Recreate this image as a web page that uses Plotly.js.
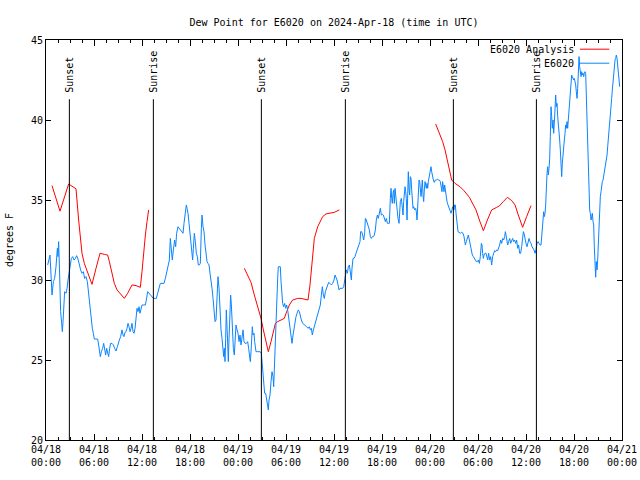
<!DOCTYPE html>
<html><head><meta charset="utf-8">
<script src="https://cdn.plot.ly/plotly-3.0.1.min.js"></script>
<style>html,body{margin:0;padding:0;background:#fff}#chart{width:640px;height:480px}</style>
</head><body><div id="chart"></div>
<script>
// Hours since 2024-04-18 00:00 UTC
const obsHours = [0.21,0.33,0.5,0.63,0.75,0.92,1.08,1.25,1.42,1.5,1.58,1.67,1.75,1.83,1.96,2.04,2.13,2.21,2.33,2.5,2.63,2.75,2.88,3.0,3.17,3.33,3.5,3.67,3.83,4.0,4.17,4.33,4.5,4.67,4.83,5.0,5.17,5.29,5.42,5.54,5.67,5.79,5.92,6.04,6.25,6.46,6.58,6.67,6.79,6.92,7.08,7.21,7.33,7.46,7.58,7.71,7.83,7.96,8.08,8.25,8.42,8.58,8.75,8.92,9.04,9.17,9.33,9.5,9.63,9.75,9.88,10.0,10.13,10.25,10.38,10.5,10.63,10.75,10.88,11.0,11.13,11.25,11.38,11.5,11.63,11.75,11.88,12.0,12.21,12.42,12.54,12.71,12.88,13.04,13.25,13.42,13.63,13.79,13.96,14.13,14.29,14.5,14.75,14.92,15.08,15.25,15.42,15.54,15.67,15.79,15.92,16.08,16.21,16.33,16.5,16.67,16.83,17.0,17.13,17.25,17.42,17.54,
17.63,17.75,17.88,18.0,18.13,18.25,18.33,18.42,18.54,18.67,18.79,18.92,19.04,19.17,19.29,19.42,19.5,19.63,19.75,19.88,20.0,20.13,20.25,20.38,20.5,20.63,20.75,20.88,21.0,21.13,21.25,21.38,21.5,21.63,21.75,21.88,22.0,22.13,22.21,22.29,22.38,22.46,22.54,22.67,22.79,22.88,22.96,23.08,23.17,23.29,23.42,23.54,23.63,23.75,23.88,24.0,24.13,24.25,24.38,24.5,24.63,24.75,24.88,25.04,25.21,25.33,25.46,25.54,25.63,25.71,25.79,25.88,26.0,26.08,26.17,26.25,26.42,26.58,26.75,26.92,27.0,27.08,27.21,27.33,27.46,27.58,27.71,27.79,27.88,28.0,28.13,28.25,28.38,28.46,28.54,28.63,28.71,28.79,28.88,28.96,29.04,29.17,29.29,29.38,29.46,29.58,29.71,29.83,29.96,30.08,30.21,30.33,30.46,30.58,30.75,30.88,31.0,31.13,31.25,31.38,31.54,31.67,31.79,31.92,32.08,32.25,32.42,32.58,32.75,32.92,33.04,33.17,33.29,33.42,33.54,33.67,33.83,34.0,34.17,34.29,34.42,34.54,34.67,34.79,34.92,35.04,35.17,35.33,35.5,35.67,35.83,36.0,36.13,
36.38,36.5,36.63,36.75,36.92,37.08,37.21,37.33,37.42,37.54,37.67,37.79,37.92,38.04,38.17,38.25,38.38,38.5,38.63,38.75,38.88,39.0,39.13,39.25,39.33,39.46,39.58,39.71,39.83,39.92,40.04,40.17,40.29,40.42,40.54,40.67,40.79,40.92,41.04,41.17,41.29,41.42,41.54,41.67,41.79,41.92,42.04,42.17,42.29,42.42,42.54,42.67,42.79,42.92,43.04,43.13,43.21,43.29,43.38,43.46,43.54,43.63,43.71,43.79,43.88,44.0,44.13,44.21,44.29,44.42,44.5,44.63,44.71,44.79,44.88,44.96,45.04,45.13,45.21,45.29,45.38,45.46,45.54,45.63,45.71,45.79,45.88,45.96,46.08,46.21,46.29,46.38,46.46,46.54,46.63,46.71,46.79,46.88,46.96,47.04,47.13,47.21,47.29,47.38,47.46,47.54,47.63,47.71,47.79,47.88,47.96,48.04,48.13,48.21,48.29,48.42,48.54,48.67,48.79,48.92,49.04,49.17,49.29,49.42,49.5,49.58,49.67,49.75,49.83,49.92,50.0,50.13,50.25,50.38,50.5,50.63,50.75,50.83,50.92,51.0,51.08,51.17,51.25,51.33,51.42,51.5,51.63,51.79,51.96,52.13,52.25,52.33,52.42,52.54,52.67,52.79,52.92,53.04,53.17,53.29,53.42,53.54,53.67,53.79,53.92,54.04,54.17,54.29,54.42,54.5,54.58,54.67,54.75,54.88,55.0,
55.21,55.33,55.46,55.58,55.71,55.83,55.96,56.08,56.21,56.33,56.46,56.58,56.71,56.83,56.96,57.08,57.21,57.33,57.42,57.5,57.58,57.71,57.83,57.96,58.08,58.21,58.33,58.46,58.58,58.71,58.83,58.96,59.08,59.21,59.33,59.46,59.58,59.67,59.75,59.88,60.0,60.13,60.25,60.38,60.5,60.63,60.75,60.88,61.0,61.13,61.25,61.38,61.5,61.63,61.75,61.88,62.0,62.13,62.21,62.29,62.38,62.46,62.54,62.63,62.71,62.79,62.88,62.96,63.04,63.13,63.21,63.29,63.38,63.46,63.54,63.63,63.71,63.79,63.88,63.96,64.04,64.13,64.21,64.29,64.38,64.46,64.54,64.63,64.71,64.79,64.88,64.96,65.04,65.13,65.21,65.29,65.38,65.46,65.54,65.63,65.71,65.79,65.88,65.96,66.04,66.13,66.21,66.29,66.38,66.46,66.54,66.63,66.71,66.79,66.88,66.96,67.04,67.13,67.21,67.29,67.38,67.46,67.54,67.63,67.71,67.79,67.88,67.96,68.04,68.13,68.21,68.29,68.38,68.46,68.54,68.63,68.71,68.79,68.88,68.96,69.04,69.13,69.21,69.29,69.38,69.46,69.54,69.63,69.71,69.79,69.88,69.96,70.04,70.13,70.21,70.29,70.38,70.46,70.54,70.63,70.71,70.79,70.88,70.96,71.04,71.13,71.21,71.29,71.38,71.46,71.54,71.63,71.71];
const obsDew = [30.94,31.25,31.56,30.31,29.06,29.9,30.1,30.83,31.98,31.46,32.4,30.94,29.06,28.02,27.29,26.77,27.4,28.65,29.27,29.17,29.48,30.0,30.42,30.94,31.35,31.46,31.25,31.35,31.52,31.31,30.83,30.63,30.42,30.52,30.1,30.21,29.9,29.27,28.65,28.13,27.6,26.98,26.67,26.31,26.31,26.31,25.94,25.52,25.21,25.52,25.73,26.04,25.63,25.31,25.73,25.42,25.21,25.73,26.04,26.04,25.94,25.73,25.56,25.83,26.15,26.25,26.46,26.88,26.56,26.46,26.73,26.77,26.98,27.29,27.08,26.77,26.98,27.29,26.77,26.67,26.98,27.71,28.23,28.02,28.33,27.92,28.23,28.44,28.44,28.44,28.75,29.27,29.17,29.06,28.96,28.85,28.85,28.85,29.17,29.48,29.79,29.79,29.79,30.1,30.52,30.83,31.25,32.6,31.77,31.25,31.88,32.5,32.08,32.92,33.33,33.23,33.13,33.02,32.92,33.54,34.17,34.69,
34.48,34.17,33.54,32.92,32.19,31.67,31.25,31.98,32.92,32.4,31.67,31.46,30.94,30.94,31.04,33.23,34.06,33.33,33.02,32.19,31.56,31.15,31.04,30.94,30.42,30.0,29.48,28.85,28.02,27.4,27.5,29.06,30.21,29.48,28.02,26.88,26.35,25.73,25.21,25.73,24.9,26.35,28.13,26.56,24.9,26.35,28.23,29.06,28.44,26.98,25.73,25.31,25.94,27.19,26.88,26.67,26.15,26.56,25.94,26.35,26.88,26.15,26.04,26.04,26.15,25.73,25.31,24.9,25.52,26.35,27.08,26.56,26.67,26.15,25.83,25.52,25.52,25.52,25.52,25.42,24.9,24.27,23.44,22.92,22.92,22.5,22.29,21.88,22.5,22.81,23.65,24.27,23.96,23.33,24.38,25.94,27.19,28.23,29.27,30.1,30.83,30.83,30.83,29.9,29.06,28.54,28.33,28.54,28.23,28.44,28.13,27.6,27.19,26.77,26.04,26.56,26.98,27.29,27.71,27.92,28.13,28.02,27.71,27.5,27.29,27.19,27.15,27.08,26.98,27.08,26.88,26.98,26.56,26.88,27.08,27.4,27.6,27.81,28.13,28.44,29.06,29.58,29.06,28.85,29.27,29.48,29.69,29.85,29.79,29.69,29.79,30.0,30.31,
30.0,29.69,29.38,29.48,29.48,29.48,29.58,29.9,30.21,30.63,30.42,30.83,30.94,30.52,30.0,30.73,31.35,31.35,31.46,31.67,31.88,32.08,32.19,32.4,33.02,33.02,32.81,32.5,32.92,33.85,33.75,33.54,33.44,33.13,32.71,32.6,32.71,32.71,32.81,33.13,33.75,34.06,33.85,34.17,34.48,34.06,34.1,34.06,33.85,33.65,33.85,33.54,33.54,33.54,35.1,35.73,35.1,34.79,35.42,35.63,34.79,35.73,35.31,34.79,34.17,33.85,33.54,34.17,34.9,35.1,34.48,34.06,34.9,35.42,35.83,35.52,35.1,33.75,36.15,36.77,35.63,35.31,36.46,36.35,35.63,34.69,34.48,34.58,34.38,34.48,34.27,33.75,34.48,35.52,36.25,36.15,35.83,35.21,35.73,36.25,35.31,34.9,35.63,36.15,35.94,35.73,36.04,35.73,36.15,36.46,36.77,36.88,37.08,36.77,36.46,36.25,36.1,36.25,36.25,36.31,36.25,36.25,36.15,35.83,35.52,36.15,35.83,35.52,35.94,35.63,35.21,34.9,34.69,34.48,34.27,34.17,34.38,34.58,34.48,34.38,34.69,34.69,34.17,33.65,33.23,33.02,32.98,32.92,32.98,32.92,32.71,32.4,32.19,32.4,32.71,32.81,32.5,32.19,31.67,31.56,31.46,31.35,31.25,31.15,31.15,31.25,31.04,31.46,32.29,32.19,31.67,31.35,31.56,31.67,31.67,
31.25,31.67,31.25,31.46,30.94,31.46,31.67,31.83,31.77,31.88,31.83,31.98,32.19,32.5,32.29,32.6,32.5,32.71,33.02,32.81,32.5,32.19,32.4,32.6,32.29,32.5,32.6,32.4,32.5,32.29,32.5,31.98,32.19,31.67,31.67,32.08,32.5,33.02,32.92,32.5,32.29,32.08,32.4,32.6,32.4,32.29,32.08,31.98,31.88,31.67,31.88,32.29,32.4,32.29,32.19,32.19,32.92,33.75,34.27,33.96,34.17,34.69,36.04,36.67,37.08,36.56,36.98,37.6,38.96,40.83,40.21,39.48,40.0,39.17,39.79,41.25,41.56,40.83,41.04,40.21,39.79,39.58,38.75,38.13,37.29,36.46,37.29,38.13,38.54,38.75,39.17,39.69,39.48,39.9,39.48,40.0,40.52,41.25,41.88,42.4,42.81,42.71,42.6,42.5,42.6,42.4,42.19,41.77,41.35,41.98,43.13,43.96,43.33,42.81,42.71,43.02,42.81,42.92,42.71,42.92,43.02,42.92,41.25,40.21,38.75,37.08,35.42,34.38,34.17,33.75,33.96,34.17,33.65,33.44,32.08,31.15,30.17,31.15,30.63,31.25,32.5,33.33,34.27,35.21,35.52,36.04,36.15,36.25,36.46,36.67,36.98,37.19,37.5,37.81,38.33,38.75,39.17,39.69,40.31,40.83,41.35,41.88,42.5,43.02,43.33,43.75,43.85,44.06,43.85,43.33,42.92,42.29,42.08];

const anaHours1 = [0.75,1.75,2.83,3.75,4.08,4.29,4.5,4.79,5.21,5.75,6.25,6.75,7.29,7.71,7.92,8.25,8.54,8.88,9.29,9.79,10.21,10.75,11.25,11.79,12.0,12.21,12.42,12.63,12.83];
const anaDew1 = [35.9,34.3,36.0,35.7,33.75,32.6,31.67,31.04,30.42,29.73,30.73,31.67,31.6,31.56,31.15,30.31,29.79,29.38,29.17,28.85,29.17,29.69,29.65,29.54,30.52,31.77,32.81,33.65,34.38];
const anaHours2 = [24.79,25.21,25.63,26.04,26.46,26.88,27.17,27.5,27.79,28.13,28.42,28.67,28.96,29.38,29.79,30.08,30.42,30.83,31.46,31.88,32.29,32.75,33.0,33.25,33.54,33.96,34.58,35.0,35.63,36.04,36.67];
const anaDew2 = [30.73,30.31,29.85,29.06,28.33,27.6,26.88,26.15,25.52,26.15,26.77,27.29,27.4,27.5,27.6,28.02,28.44,28.75,28.85,28.85,28.81,28.75,29.69,31.15,32.6,33.33,33.96,34.13,34.17,34.23,34.38];
const anaHours3 = [48.71,49.17,49.58,49.88,50.17,50.42,50.71,51.13,51.75,52.25,52.92,53.42,53.75,54.17,54.67,55.17,55.71,56.33,56.67,57.17,57.67,58.21,58.63,59.04,59.58,60.08,60.63];
const anaDew3 = [39.75,39.17,38.65,38.13,37.5,36.77,36.25,36.04,35.83,35.58,35.17,34.69,34.38,33.75,33.08,33.75,34.38,34.54,34.63,34.9,35.17,34.96,34.69,34.06,33.29,33.96,34.65];

const sunHours = [2.92,13.42,26.92,37.42,50.92,61.3];
const sunLabels = ['Sunset','Sunrise','Sunset','Sunrise','Sunset','Sunrise'];

const tickHours = [0,6,12,18,24,30,36,42,48,54,60,66,72];
const tickDates = ['04/18','04/18','04/18','04/18','04/19','04/19','04/19','04/19','04/20','04/20','04/20','04/20','04/21'];
const tickTimes = ['00:00','06:00','12:00','18:00','00:00','06:00','12:00','18:00','00:00','06:00','12:00','18:00','00:00'];

const seriesNames = ['E6020 Analysis','E6020'];
const RED = '#ff0000', BLUE = '#0a84ff';
const FONT = 'DejaVu Sans Mono, monospace';

// analysis segments joined with gaps
const anaX = [...anaHours1, null, ...anaHours2, null, ...anaHours3];
const anaY = [...anaDew1, null, ...anaDew2, null, ...anaDew3];

const traces = [
  {x: anaX, y: anaY, mode: 'lines', name: seriesNames[0], line: {color: RED, width: 1}, connectgaps: false, showlegend: false},
  {x: obsHours, y: obsDew, mode: 'lines', name: seriesNames[1], line: {color: BLUE, width: 1}, showlegend: false}
];

const shapes = sunHours.map(h => ({type: 'line', xref: 'x', yref: 'y', x0: h, x1: h, y0: 20, y1: 41.3, line: {color: '#000', width: 1}}));
// legend samples
shapes.push({type: 'line', xref: 'paper', yref: 'paper', x0: 0.927, x1: 0.978, y0: 0.977, y1: 0.977, line: {color: RED, width: 1}});
shapes.push({type: 'line', xref: 'paper', yref: 'paper', x0: 0.927, x1: 0.978, y0: 0.942, y1: 0.942, line: {color: BLUE, width: 1}});

const annotations = sunHours.map((h, i) => ({x: h, y: 41.6, xref: 'x', yref: 'y', text: sunLabels[i], textangle: -90, showarrow: false, xanchor: 'center', yanchor: 'bottom', font: {family: FONT, size: 10, color: '#000'}}));
annotations.push({x: 0.921, y: 0.977, xref: 'paper', yref: 'paper', text: seriesNames[0], showarrow: false, xanchor: 'right', yanchor: 'middle', font: {family: FONT, size: 10, color: '#000'}});
annotations.push({x: 0.921, y: 0.942, xref: 'paper', yref: 'paper', text: seriesNames[1], showarrow: false, xanchor: 'right', yanchor: 'middle', font: {family: FONT, size: 10, color: '#000'}});

const layout = {
  width: 640, height: 480,
  margin: {l: 46, r: 18, t: 40, b: 40},
  paper_bgcolor: '#fff', plot_bgcolor: '#fff',
  font: {family: FONT, size: 10, color: '#000'},
  title: {text: 'Dew Point for E6020 on 2024-Apr-18 (time in UTC)', x: 0.5, xref: 'paper', y: 0.96, yref: 'container', font: {family: FONT, size: 10}},
  showlegend: false,
  xaxis: {
    range: [0, 72], tickvals: tickHours, ticktext: tickHours.map((_, i) => tickDates[i] + '<br>' + tickTimes[i]),
    ticks: 'inside', ticklen: 6, tickcolor: '#000', showline: true, linecolor: '#000', linewidth: 1, mirror: 'ticks',
    showgrid: false, zeroline: false, tickangle: 0,
    minor: {dtick: 1.5, tick0: 0, ticks: 'inside', ticklen: 3, tickcolor: '#000', showgrid: false},
    tickfont: {family: FONT, size: 10}
  },
  yaxis: {
    range: [20, 45], dtick: 5, tick0: 20, ticks: 'inside', ticklen: 5, tickcolor: '#000',
    showline: true, linecolor: '#000', linewidth: 1, mirror: 'ticks', showgrid: false, zeroline: false,
    tickfont: {family: FONT, size: 10},
    title: {text: 'degrees F', font: {family: FONT, size: 10}, standoff: 15}
  },
  shapes: shapes,
  annotations: annotations
};

Plotly.newPlot('chart', traces, layout, {displayModeBar: false, staticPlot: true});
</script></body></html>
